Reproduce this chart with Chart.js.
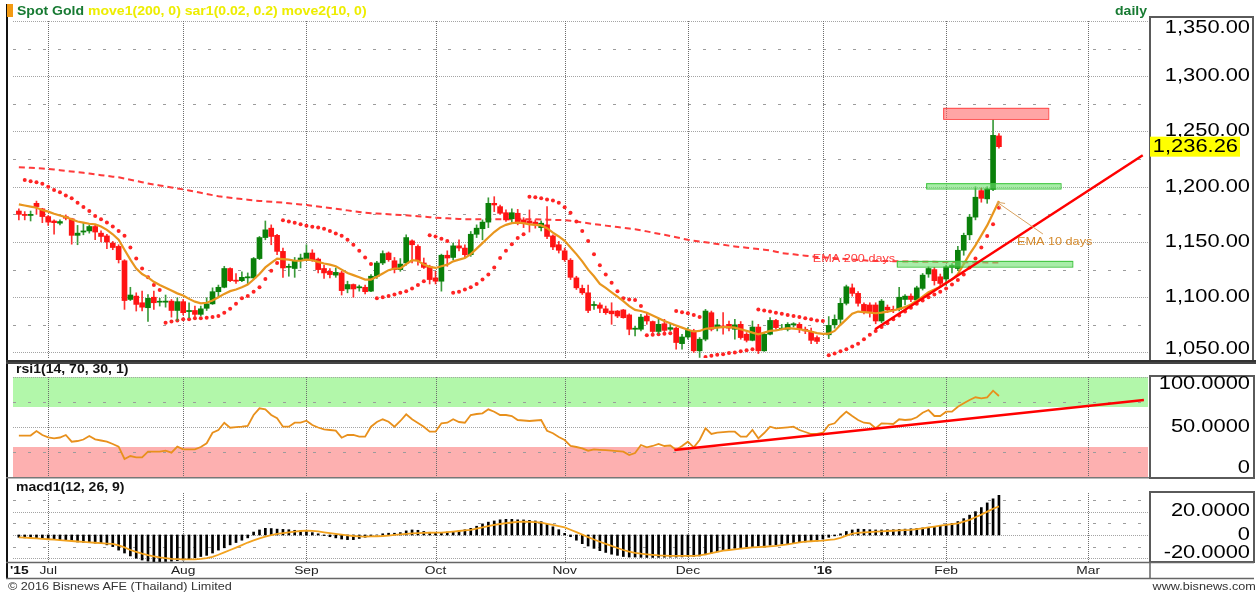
<!DOCTYPE html>
<html>
<head>
<meta charset="utf-8">
<script src="https://cdn.jsdelivr.net/npm/chart.js@4.4.0/dist/chart.umd.min.js"></script>
<style>
  body { margin: 0; background: #fff; }
  #wrap { position: relative; width: 1258px; height: 593px; overflow: hidden; font-family: "Liberation Sans", Arial, sans-serif; }
  canvas { position: absolute; left: 0; }
  .txt { position: absolute; white-space: nowrap; line-height: 14px; transform-origin: 0 50%; }
</style>
</head>
<body>
<div id="wrap">
  <canvas id="mainChart" width="1258" height="362" style="top:0"></canvas>
  <canvas id="rsiChart" width="1258" height="117" style="top:362px"></canvas>
  <canvas id="macdChart" width="1258" height="114" style="top:479px"></canvas>

  <div style="position:absolute;left:7px;top:4px;width:6px;height:13px;background:#f39a12"></div>
  <div class="txt" style="left:17px;top:4px;font-weight:bold;font-size:12px;transform:scaleX(1.17)">
    <span style="color:#177a32">Spot Gold</span> <span style="color:#eded00">move1(200, 0) sar1(0.02, 0.2) move2(10, 0)</span>
  </div>
  <div class="txt" style="left:1115px;top:4px;font-weight:bold;font-size:12px;color:#177a32;transform:scaleX(1.17)">daily</div>
  <div class="txt" style="left:16px;top:362px;font-weight:bold;font-size:12px;color:#111;transform:scaleX(1.17)">rsi1(14, 70, 30, 1)</div>
  <div class="txt" style="left:16px;top:480px;font-weight:bold;font-size:12px;color:#111;transform:scaleX(1.17)">macd1(12, 26, 9)</div>
  <div class="txt" style="left:8px;top:579px;font-size:11px;color:#333;transform:scaleX(1.15)">&copy; 2016 Bisnews AFE (Thailand) Limited</div>
  <div class="txt" style="right:2px;top:579px;font-size:11px;color:#333;transform-origin:100% 50%;transform:scaleX(1.15)">www.bisnews.com</div>
</div>

<script>
// trading days are numbered from 1 Jul 2015 (day 0); the first candle is day -5
var firstDay = -5;

var monthStarts = [0, 23, 44, 66, 88, 109, 132, 153, 177.2];
var monthLabels = ['Jul', 'Aug', 'Sep', 'Oct', 'Nov', 'Dec', "'16", 'Feb', 'Mar'];
var yearLabel = "'15";

var priceTicks = [1350, 1300, 1250, 1200, 1150, 1100, 1050];
var priceMinor = [1325, 1275, 1225, 1175, 1125, 1075];
var rsiTicks = [100, 50, 0];
var rsiMinor = [75, 25];
var macdTicks = [20, 0, -20];
var macdMinor = [30, 10, -10];

var opens = [1178, 1175, 1174, 1185, 1180,
  1173, 1169, 1167, 1173, 1171, 1156, 1159, 1160, 1164, 1158,
  1155.5, 1149, 1146, 1133, 1098, 1101, 1095, 1090.5, 1100, 1095.5,
  1095.5, 1096.5, 1088, 1096, 1087, 1088, 1084.5, 1090, 1094, 1105,
  1109, 1126, 1115.5, 1115, 1117.5, 1117.5, 1135, 1154, 1162.5, 1156,
  1141.5, 1127, 1126, 1134, 1135, 1140, 1134.5, 1126, 1123.5, 1120,
  1122, 1107.5, 1111.5, 1108.5, 1109, 1105.5, 1119, 1131, 1140, 1133,
  1125, 1131, 1151, 1146, 1131, 1128, 1117.5, 1114.5, 1138, 1136,
  1146.5, 1144.5, 1138.5, 1157, 1162, 1168, 1185, 1182, 1176.5, 1171,
  1176, 1170, 1169, 1168, 1163, 1165.5, 1155.5, 1147.5, 1142, 1133.5,
  1117.5, 1108, 1104, 1092.5, 1093, 1089.5, 1087.5, 1087.5, 1088.5, 1084,
  1071, 1071, 1083, 1078, 1069, 1076, 1071, 1072, 1058, 1064,
  1069.5, 1051.5, 1062, 1086, 1072.5, 1074, 1075.5, 1071, 1075.5, 1066.5,
  1061, 1073, 1051.5, 1066.5, 1079, 1071, 1071, 1075, 1075.5, 1071,
  1069, 1063.5, null, 1066, 1075, 1080, 1094.5, 1108.5, 1103.5, 1093.5,
  1093, 1093, 1078.5, 1091, 1089, 1089, 1098, 1101, 1097.5, 1108,
  1121, 1125, 1118.5, 1116.5, 1127, 1126, 1142.5, 1156.5, 1172.5, 1196.5,
  1189, 1197.5, 1246];

var highs = [1180, 1177.5, 1178, 1187, 1180.5,
  1174, 1170, 1170, 1174.5, 1171.5, 1165, 1167, 1165.5, 1165.5, 1160,
  1157, 1150.5, 1147.5, 1134, 1109, 1104, 1105.5, 1102.5, 1105.5, 1099,
  1102, 1098, 1099.5, 1098, 1095, 1092, 1092, 1099.5, 1108.5, 1111,
  1128, 1126.5, 1121.5, 1123, 1122, 1136, 1155, 1169, 1165.5, 1157,
  1144.5, 1130, 1136, 1139, 1147.5, 1143, 1135.5, 1129, 1126, 1126.5,
  1123.5, 1114.5, 1112, 1111, 1111, 1120.5, 1132.5, 1142, 1141, 1136,
  1135, 1156.5, 1152, 1147.5, 1135.5, 1129, 1123.5, 1139, 1142, 1149,
  1152, 1147.5, 1159.5, 1165.5, 1170, 1190, 1191, 1183.5, 1179, 1180,
  1179.5, 1172, 1179, 1170, 1169, 1182, 1156.5, 1150.5, 1144.5, 1135,
  1119, 1111, 1111, 1096, 1095, 1092, 1095, 1088, 1089, 1085,
  1074, 1084.5, 1086, 1078.5, 1080, 1080, 1075.5, 1073, 1066.5, 1072.5,
  1071, 1063.5, 1089, 1087.5, 1080, 1086, 1078.5, 1080, 1078, 1068,
  1078.5, 1075.5, 1068, 1081.5, 1080, 1075.5, 1077, 1077, 1077, 1073,
  1072, 1065, null, 1082.5, 1084, 1099, 1111, 1112, 1105, 1095,
  1095, 1095, 1098, 1093, 1092, 1109, 1102.5, 1103, 1110, 1121.5,
  1127.5, 1127, 1121, 1129, 1130.5, 1146, 1158, 1175, 1200, 1199,
  1200, 1260.5, 1248];

var lows = [1170, 1170, 1169, 1175, 1167.5,
  1165, 1157, 1165.5, 1170, 1148, 1147.5, 1156.5, 1158, 1152, 1150,
  1144, 1143, 1131, 1089, 1097, 1087.5, 1087.5, 1078, 1089, 1092,
  1091, 1082, 1079, 1084, 1081.5, 1082, 1083, 1088, 1093.5, 1099.5,
  1108.5, 1114, 1112.5, 1114, 1112, 1116, 1134, 1152, 1147.5, 1138.5,
  1118, 1119, 1118, 1126.5, 1133, 1132.5, 1122, 1117, 1117.5, 1118,
  1102, 1104, 1100, 1105.5, 1103, 1105, 1117, 1129.5, 1132.5, 1122,
  1123.5, 1129, 1131, 1129, 1126, 1112, 1112, 1105.5, 1128, 1134,
  1142, 1136, 1137, 1154, 1152, 1163, 1177.5, 1175, 1168.5, 1168,
  1165.5, 1163, 1159, 1162.5, 1160, 1153, 1143, 1140, 1132.5, 1116,
  1107, 1102.5, 1086, 1089, 1086, 1084.5, 1075.5, 1081.5, 1081, 1066,
  1065, 1069.5, 1075.5, 1066.5, 1067, 1068, 1069.5, 1053, 1053, 1062,
  1050, 1045.5, 1060.5, 1069.5, 1069.5, 1066.5, 1069.5, 1062, 1062, 1059.5,
  1060.5, 1049, 1051, 1066, 1071, 1070.5, 1069.5, 1073, 1068, 1067,
  1058, 1058, null, 1062.5, 1072, 1075, 1093, 1101, 1092, 1085,
  1082, 1076, 1077, 1086, 1086, 1087.5, 1093, 1096, 1096, 1106.5,
  1118, 1111, 1110, 1111, 1122, 1124, 1138, 1152, 1170, 1186,
  1185, 1196.5, 1235];

var closes = [1175, 1174, 1175, 1182, 1173,
  1168, 1167.5, 1168.5, 1171.5, 1156, 1158, 1160, 1164, 1159, 1155,
  1150, 1145, 1134, 1097, 1102, 1093.5, 1091, 1099, 1095, 1096,
  1096.5, 1088, 1096, 1086, 1088, 1084.5, 1089.5, 1094, 1105, 1109,
  1126, 1115, 1114.5, 1118, 1118.5, 1135, 1154, 1161, 1155, 1141.5,
  1126.5, 1128, 1133, 1135.5, 1140, 1134, 1125, 1122, 1120.5, 1122.5,
  1106, 1111.5, 1107.5, 1109.5, 1105, 1119, 1131, 1139.5, 1134, 1125,
  1130, 1154, 1147.5, 1133, 1127, 1116, 1114.5, 1138, 1135.5, 1146.5,
  1144.5, 1138.5, 1157, 1162.5, 1168, 1185, 1183.5, 1176, 1170, 1176.5,
  1167.5, 1167, 1167, 1165.5, 1167, 1155, 1145.5, 1142.5, 1134, 1118,
  1108.5, 1104, 1088, 1093.5, 1090, 1086, 1085, 1083, 1081.5, 1071,
  1072, 1082, 1078.5, 1069, 1075.5, 1070, 1072.5, 1059, 1064, 1070,
  1051.5, 1062, 1087.5, 1071, 1075, 1072.5, 1072, 1075, 1063.5, 1061,
  1073, 1051.5, 1066.5, 1079, 1072.5, 1072, 1075.5, 1076, 1071, 1069.5,
  1061, 1060, null, 1074.5, 1080, 1094.5, 1109.5, 1103.5, 1094.5, 1087,
  1087, 1078.5, 1096.5, 1088.5, 1088, 1100, 1101, 1098, 1108.5, 1120,
  1126, 1115, 1112.5, 1127.5, 1129, 1142.5, 1156, 1172.5, 1190.5, 1189.5,
  1198, 1246.5, 1236.26];

var ema10 = [1184, 1183, 1182, 1181, 1179,
  1177.5, 1175.5, 1174, 1172.5, 1170.5, 1168.5, 1167.5, 1166.5, 1166, 1164,
  1161, 1157, 1152, 1143, 1134, 1126, 1121, 1118, 1114, 1111,
  1108.5, 1106, 1103.5, 1101.5, 1098.5, 1096, 1094.5, 1095, 1097, 1100,
  1103, 1105.5, 1107, 1109, 1111.5, 1116, 1121, 1127, 1131, 1135,
  1134.5, 1134, 1133, 1133, 1134, 1133.5, 1132, 1130.5, 1129.5, 1128,
  1125, 1122, 1120, 1118, 1116, 1116, 1118.5, 1121.5, 1124.5, 1126,
  1126, 1130, 1133.5, 1133, 1129.5, 1127.5, 1126.5, 1128, 1129.5, 1132.5,
  1134, 1135.5, 1139, 1144, 1149, 1154, 1159, 1163, 1165.5, 1167,
  1167.5, 1167, 1166, 1165.5, 1165, 1162.5, 1158.5, 1155, 1151, 1145,
  1139, 1132.5, 1125, 1119, 1112, 1108.5, 1104.5, 1100.5, 1096.5, 1092,
  1088.5, 1087.5, 1086, 1083.5, 1081, 1078.5, 1076.5, 1074.5, 1072.5, 1070.5,
  1069, 1069.5, 1071.5, 1072, 1072.5, 1073, 1073, 1072.5, 1071, 1069.5,
  1068, 1066.5, 1068, 1069.5, 1070, 1071, 1072, 1071.5, 1071, 1070,
  1069, 1067.5, 1066.8, 1067, 1069.5, 1075, 1080, 1085, 1087, 1086.5,
  1086, 1085.5, 1086, 1087, 1088, 1089.5, 1091, 1093.5, 1097, 1100.5,
  1104.5, 1107, 1109.5, 1113, 1116, 1121, 1130, 1139, 1147, 1156,
  1165, 1176, 1187];

var ema200 = [1217.7, 1217.4, 1217.1, 1216.8, 1216.5,
  1216.2, 1215.6, 1215, 1214.4, 1213.8, 1213.2, 1212.6, 1212, 1211.2, 1210.5,
  1209.8, 1209.1, 1208.5, 1207.5, 1206.3, 1205.2, 1204.1, 1203, 1202, 1201.2,
  1200.3, 1199.4, 1198.5, 1197.6, 1196.6, 1195.5, 1194.5, 1193.4, 1192.4, 1191.4,
  1190.7, 1190, 1189.4, 1188.8, 1188.2, 1187.6, 1187.2, 1186.8, 1186.4, 1186,
  1185.6, 1185, 1184.5, 1184, 1183.5, 1182.8, 1182.1, 1181.4, 1180.7, 1180,
  1179.3, 1178.6, 1177.9, 1177.2, 1176.5, 1176.1, 1175.8, 1175.4, 1175.1, 1174.8,
  1174.5, 1174.1, 1173.7, 1173.3, 1172.9, 1172.4, 1172, 1171.7, 1171.4, 1171.1,
  1170.8, 1170.6, 1170.6, 1170.6, 1170.6, 1170.6, 1170.6, 1170.6, 1170.6, 1170.6,
  1170.6, 1170.6, 1170.6, 1170.6, 1170.4, 1170.2, 1170, 1169.9, 1169.7, 1169.2,
  1168.5, 1167.8, 1167, 1166.2, 1165.5, 1164.8, 1164.2, 1163.5, 1162.9, 1162.2,
  1161.6, 1160.6, 1159.6, 1158.5, 1157.5, 1156.5, 1155.4, 1154.3, 1153.1, 1152,
  1151.2, 1150.5, 1149.7, 1149, 1148.2, 1147.5, 1146.7, 1146, 1145.4, 1144.8,
  1144.2, 1143.6, 1143, 1142.4, 1141.2, 1140, 1139.4, 1138.8, 1138.2, 1137.6,
  1137, 1136.5, 1136.1, 1135.7, 1135.4, 1135, 1134.6, 1134.2, 1133.8, 1133.4,
  1133, 1132.9, 1132.8, 1132.7, 1132.6, 1132.5, 1132.4, 1132.3, 1132.2, 1132.1,
  1132, 1132, 1131.9, 1131.9, 1131.8, 1131.8, 1131.7, 1131.7, 1131.6, 1131.6,
  1131.5, 1131.5, 1131.5];

var sar = [null, 1206, 1205, 1204, 1202.7,
  1200, 1197, 1195, 1192, 1189.5, 1185.6, 1181.7, 1178, 1173.6, 1170.6,
  1167.6, 1164, 1160, 1155.6, 1145, 1135, 1126, 1118, 1111, 1106.5,
  1077, 1078, 1079, 1080, 1080, 1081, 1081, 1081.5, 1082, 1083,
  1086, 1089.5, 1094, 1099, 1101, 1105, 1109, 1116.6, 1124, 1131,
  1169.7, 1168.5, 1167.3, 1166, 1164.6, 1163.7, 1163, 1162, 1160, 1157.7,
  1155.6, 1152, 1147.5, 1142, 1136, 1130, 1099, 1100, 1101, 1102.5,
  1104, 1105.5, 1108, 1111, 1114.5, 1156, 1155, 1153, 1151, 1104,
  1105, 1107, 1109, 1112, 1116, 1120.5, 1127, 1135.5, 1142, 1148,
  1153.5, 1157, 1191, 1190.5, 1189.5, 1188.5, 1187.5, 1185.5, 1181.5, 1176.5,
  1168.5, 1160, 1151, 1139, 1129, 1120.5, 1113, 1105.5, 1099, 1098,
  1097.5, 1092, 1065.5, 1066, 1066.5, 1067, 1067.5, 1087.5, 1086.5, 1085.5,
  1084, 1082, 1046, 1047, 1048, 1048.5, 1049.5, 1050, 1051, 1052,
  1053, 1089, 1088, 1087, 1086, 1085, 1084, 1083, 1082, 1081,
  1080, 1079, 1078.5, 1047.5, 1049, 1051, 1053, 1055.5, 1058, 1062,
  1066, 1069.5, 1073, 1076.5, 1080, 1083.5, 1087, 1090.5, 1094, 1097,
  1100, 1102.5, 1105, 1108, 1111.5, 1115.5, 1120.5, 1127, 1135, 1145,
  1155.5, 1166, 1181];

var rsi = [41.3, 41.3, 41.5, 46, 42,
  39.7, 38.7, 39.5, 42, 35.3, 36, 37.5, 41, 37.7, 36.5,
  35.3, 33, 30.3, 18, 21, 19.7, 19.7, 25.3, 25.3, 25.3,
  26.3, 24.3, 30.3, 27.7, 27.7, 27.7, 30, 33.7, 44.3, 47,
  54.3, 49.3, 49.8, 50.3, 51, 62, 68.7, 67.7, 62, 58.7,
  50.3, 50.3, 54.3, 54.3, 56.3, 52, 49.5, 47.7, 47, 46.3,
  39.3, 42, 42, 40.3, 40.3, 50.3, 55, 57.7, 55.3, 50.3,
  56, 62.7, 57.7, 54, 50.3, 45.3, 45.3, 53.7, 54.3, 57.7,
  55, 54.3, 62, 63, 63.7, 67.7, 65.3, 62, 62, 61,
  57, 56.5, 56, 56.5, 57, 46.3, 43.7, 40, 37, 31,
  30, 28.7, 26.3, 27.7, 27.2, 26.8, 26.3, 25.8, 25.3, 22,
  24, 32, 29.7, 31, 33, 31, 31.5, 27, 31, 35.3,
  29.7, 37, 48.7, 43, 44.3, 44.8, 45.3, 45.3, 40.3, 40.3,
  47, 38.7, 44, 50.3, 48.7, 49.2, 49.7, 50.3, 47, 45,
  43, 43, 44.3, 52, 53.7, 60, 65.3, 61, 57, 54.3,
  53.7, 48.7, 53.7, 53.3, 53, 57.7, 57, 57.5, 59.7, 64.3,
  67, 61, 61, 65.3, 65.3, 70.3, 73.7, 77, 79.7, 78.7,
  79.7, 86.3, 81];

var macd = [-2, -2.5, -2.5, -3, -3.2,
  -3.5, -3.8, -4.3, -4.5, -5, -6, -6.3, -6.6, -7, -7.5,
  -8.5, -10, -13, -15.5, -18, -20, -21.5, -22.5, -23, -23,
  -22.8, -22.5, -22, -21.5, -20.5, -19.5, -18.5, -17.5, -15.5, -13,
  -11, -8.5, -6.5, -4.5, -2.5, 2.5, 4.3, 5.7, 5.5, 5,
  4.8, 4.5, 4, 3.5, 3, 2, 1, -0.5, -1.5, -2.5,
  -3.5, -4, -4, -3, -2, -1, 0, 1, 1.5, 1.5,
  2, 3.5, 4.3, 4, 3, 2.3, 1.8, 2, 2.5, 3,
  3.5, 4.5, 5.7, 7.5, 9.5, 11, 12, 13, 13.4, 13.4,
  13, 12.9, 12.5, 12, 11.4, 9, 7, 4.5, 1.4, -1.5,
  -4.5, -7.5, -9.5, -11.5, -13.5, -15, -16.5, -17.5, -18.5, -19,
  -19, -19.2, -19.3, -19.3, -19.2, -19.1, -19, -19, -18.8, -18.5,
  -18.3, -18, -17, -15.5, -14.5, -13.5, -12.5, -11.5, -11, -10.5,
  -10, -9.5, -9.2, -8.8, -8.5, -8, -7.5, -7, -6.5, -6,
  -5.5, -5.2, -3.5, -2, -0.8, 1, 3, 4.3, 5, 4.8,
  4.5, 4.3, 4.3, 4.5, 4.5, 4.8, 5, 5.3, 5.6, 6,
  6.5, 7, 7.5, 8.5, 10, 11.5, 14, 17, 20, 23.5,
  27.5, 31, 34];

var signal = [-2, -2.3, -2.6, -3, -3.3,
  -3.7, -4, -4.4, -4.8, -5.2, -5.6, -6, -6.3, -6.7, -7,
  -7.4, -7.7, -9, -10.7, -12.9, -14.5, -16, -17.3, -18.3, -19.2,
  -19.9, -20.6, -20.8, -20.9, -20.9, -20.9, -20.5, -19.8, -18.8, -17,
  -15, -12.9, -10.8, -8.7, -6.5, -4.6, -3, -1.5, -0.2, 0.9,
  1.6, 2.3, 2.9, 3.4, 3.7, 3.5, 3, 2.3, 1.6, 1,
  0.3, -0.3, -0.9, -1.3, -1.4, -1.3, -1.1, -0.9, -0.5, 0,
  0.5, 1, 1.4, 1.6, 1.8, 1.9, 2, 2, 2.4, 2.9,
  3.4, 3.9, 4.4, 5.5, 6.6, 7.6, 8.6, 9.4, 10.1, 10.7,
  11.2, 11.4, 11.3, 11, 10.5, 9.6, 8.6, 7.6, 6.5, 4.5,
  2.4, 0.3, -1.8, -3.9, -5.8, -7.6, -9.4, -11.2, -12.9, -14.3,
  -15.3, -16.1, -16.6, -17, -17.5, -17.8, -18, -18, -18, -18,
  -18, -17.6, -16.6, -15.6, -14.6, -13.4, -12.9, -12.3, -11.8, -11.2,
  -10.7, -10.4, -10.1, -9.8, -9.4, -8.7, -8, -7.2, -6.4, -5.7,
  -5.4, -5.1, -4.9, -4.3, -3.8, -2.5, -0.5, 1.2, 1.8, 2.2,
  2.5, 2.8, 3.1, 3.4, 3.6, 3.9, 4.1, 4.3, 5, 5.7,
  6.5, 7.2, 8, 8.7, 9.3, 10, 11.5, 13, 15.2, 17.5,
  20, 22.5, 24.5];

// drawn annotations (day, price)
var zoneStart = [152.5, 149.6, 144.6];
var zoneEnd = [170.4, 172.5, 174.5];
var zoneLow = [1261.4, 1198.4, 1127.7];
var zoneHigh = [1271.4, 1203.2, 1132.9];
var priceTrendX = [140.9, 186.5];
var priceTrendY = [1071, 1228.5];
var rsiTrendX = [106.7, 186.7];
var rsiTrendY = [27, 77];

var FONT = '"Liberation Sans", Arial, sans-serif';
var X_MIN = -6, X_MAX = 187.4;

function points(arr) {
    var out = [];
    arr.forEach(function(v, k) {
        if (v !== null) out.push({x: k + firstDay, y: v});
    });
    return out;
}

var bodies = [], wicks = [];
closes.forEach(function(c, k) {
    if (c === null) return;
    var up = c >= opens[k];
    bodies.push({x: k + firstDay, y: [opens[k], c], up: up});
    wicks.push({x: k + firstDay, y: [lows[k], highs[k]], up: up});
});

function fmtPrice(v) {
    return v.toLocaleString('en-US', {minimumFractionDigits: 2, maximumFractionDigits: 2});
}
function fmtOsc(v) {
    return v === 0 ? '0' : v.toFixed(4);
}

function wideText(ctx, text, x, y, align, font, color, sx) {
    ctx.save();
    ctx.font = font;
    ctx.fillStyle = color;
    ctx.textAlign = align;
    ctx.textBaseline = 'middle';
    ctx.translate(x, y);
    ctx.scale(sx, 1);
    ctx.fillText(text, 0, 0);
    ctx.restore();
}

function hLine(ctx, a, py, dash, color) {
    var yy = Math.round(py) + 0.5;
    ctx.beginPath();
    ctx.setLineDash(dash);
    ctx.strokeStyle = color;
    ctx.moveTo(a.left, yy);
    ctx.lineTo(a.right, yy);
    ctx.stroke();
}

function drawGrid(chart, major, minor) {
    var ctx = chart.ctx, a = chart.chartArea, x = chart.scales.x, y = chart.scales.y;
    ctx.save();
    ctx.lineWidth = 1;
    major.forEach(function(v) { hLine(ctx, a, y.getPixelForValue(v), [1, 1], '#a4a4a4'); });
    minor.forEach(function(v) { hLine(ctx, a, y.getPixelForValue(v), [3, 12], '#9c9c9c'); });
    monthStarts.forEach(function(m) {
        var px = Math.round(x.getPixelForValue(m)) + 0.5;
        ctx.beginPath();
        ctx.setLineDash([1, 1]);
        ctx.strokeStyle = '#6c6c6c';
        ctx.moveTo(px, a.top);
        ctx.lineTo(px, a.bottom);
        ctx.stroke();
    });
    ctx.restore();
}

function axisLabels(chart, values, fmt) {
    var a = chart.chartArea, y = chart.scales.y;
    values.forEach(function(v) {
        var py = Math.min(a.bottom - 9, Math.max(a.top + 7, y.getPixelForValue(v)));
        wideText(chart.ctx, fmt(v), 1250, py, 'right', '17.5px ' + FONT, '#000', 1.25);
    });
}

function trendLine(chart, xs, ys) {
    var ctx = chart.ctx, x = chart.scales.x, y = chart.scales.y;
    ctx.save();
    ctx.strokeStyle = '#ff0000';
    ctx.lineWidth = 2.5;
    ctx.beginPath();
    ctx.moveTo(x.getPixelForValue(xs[0]), y.getPixelForValue(ys[0]));
    ctx.lineTo(x.getPixelForValue(xs[1]), y.getPixelForValue(ys[1]));
    ctx.stroke();
    ctx.restore();
}

var mainPanel = {
    id: 'mainPanel',
    beforeDatasetsDraw: function(chart) {
        drawGrid(chart, priceTicks, priceMinor);
    },
    afterDatasetsDraw: function(chart) {
        var ctx = chart.ctx, x = chart.scales.x, y = chart.scales.y;
        ctx.save();
        zoneStart.forEach(function(s, n) {
            var x1 = x.getPixelForValue(s), x2 = x.getPixelForValue(zoneEnd[n]);
            var y1 = y.getPixelForValue(zoneHigh[n]), y2 = y.getPixelForValue(zoneLow[n]);
            var resist = n === 0;
            ctx.fillStyle = resist ? 'rgba(255,105,105,0.6)' : 'rgba(110,225,110,0.6)';
            ctx.strokeStyle = resist ? '#ff4a4a' : '#3cc43c';
            ctx.lineWidth = 1;
            ctx.fillRect(x1, y1, x2 - x1, y2 - y1);
            ctx.strokeRect(x1 + 0.5, y1 + 0.5, x2 - x1, y2 - y1);
        });
        ctx.restore();

        trendLine(chart, priceTrendX, priceTrendY);

        // EMA 10 pointer
        var ax = x.getPixelForValue(169.5), ay = y.getPixelForValue(1157.2);
        var bx = x.getPixelForValue(161.7), by = y.getPixelForValue(1186);
        var ang = Math.atan2(by - ay, bx - ax);
        ctx.save();
        ctx.strokeStyle = '#d9a25e';
        ctx.lineWidth = 1;
        ctx.beginPath();
        ctx.moveTo(ax, ay);
        ctx.lineTo(bx, by);
        ctx.moveTo(bx, by);
        ctx.lineTo(bx - 8 * Math.cos(ang - 0.45), by - 8 * Math.sin(ang - 0.45));
        ctx.moveTo(bx, by);
        ctx.lineTo(bx - 8 * Math.cos(ang + 0.45), by - 8 * Math.sin(ang + 0.45));
        ctx.stroke();
        ctx.restore();

        wideText(ctx, 'EMA 200 days', x.getPixelForValue(137.3), y.getPixelForValue(1134.7), 'center', '11px ' + FONT, '#ff3c3c', 1.15);
        wideText(ctx, 'EMA 10 days', x.getPixelForValue(171.5), y.getPixelForValue(1150), 'center', '11px ' + FONT, '#d58a2c', 1.15);
    },
    afterDraw: function(chart) {
        var ctx = chart.ctx, y = chart.scales.y;
        ctx.save();
        ctx.fillStyle = '#111';
        ctx.fillRect(6, 4, 2, chart.height - 4);
        ctx.strokeStyle = '#5a5a5a';
        ctx.lineWidth = 2;
        ctx.strokeRect(1150, 17, 103, 344);
        ctx.fillStyle = '#333';
        ctx.fillRect(6, chart.height - 2, 1250, 2);
        ctx.restore();

        axisLabels(chart, priceTicks, fmtPrice);

        var last = closes[closes.length - 1];
        var py = y.getPixelForValue(last);
        ctx.save();
        ctx.fillStyle = '#ffff00';
        ctx.fillRect(1150, py - 10, 90, 20);
        ctx.restore();
        wideText(ctx, fmtPrice(last), 1238, py, 'right', '17.5px ' + FONT, '#000', 1.25);
    }
};

var rsiPanel = {
    id: 'rsiPanel',
    beforeDatasetsDraw: function(chart) {
        var ctx = chart.ctx, a = chart.chartArea, y = chart.scales.y;
        ctx.save();
        ctx.fillStyle = '#b2f7aa';
        ctx.fillRect(a.left, y.getPixelForValue(100), a.right - a.left, y.getPixelForValue(70) - y.getPixelForValue(100));
        ctx.fillStyle = '#fdb0b0';
        ctx.fillRect(a.left, y.getPixelForValue(30), a.right - a.left, y.getPixelForValue(0) - y.getPixelForValue(30));
        ctx.restore();
        drawGrid(chart, rsiTicks, rsiMinor);
    },
    afterDatasetsDraw: function(chart) {
        trendLine(chart, rsiTrendX, rsiTrendY);
    },
    afterDraw: function(chart) {
        var ctx = chart.ctx;
        ctx.save();
        ctx.fillStyle = '#111';
        ctx.fillRect(6, 0, 2, chart.height);
        ctx.fillStyle = '#444';
        ctx.fillRect(6, 0, 1250, 2);
        ctx.fillStyle = '#777';
        ctx.fillRect(6, 115, 1144, 1.5);
        ctx.strokeStyle = '#5a5a5a';
        ctx.lineWidth = 2;
        ctx.strokeRect(1150, 14, 104, 102);
        ctx.restore();
        axisLabels(chart, rsiTicks, fmtOsc);
    }
};

var macdPanel = {
    id: 'macdPanel',
    beforeDatasetsDraw: function(chart) {
        drawGrid(chart, macdTicks, macdMinor);
    },
    afterDraw: function(chart) {
        var ctx = chart.ctx, a = chart.chartArea, x = chart.scales.x;
        ctx.save();
        ctx.fillStyle = '#111';
        ctx.fillRect(6, 0, 2, 99);
        ctx.strokeStyle = '#5a5a5a';
        ctx.lineWidth = 2;
        ctx.strokeRect(1150, 13, 104, 70);
        ctx.lineWidth = 1.5;
        ctx.strokeStyle = '#666';
        ctx.beginPath();
        ctx.moveTo(6, a.bottom + 0.5); ctx.lineTo(1254, a.bottom + 0.5);
        ctx.moveTo(6, a.bottom + 16.5); ctx.lineTo(1254, a.bottom + 16.5);
        ctx.moveTo(1150, a.bottom); ctx.lineTo(1150, a.bottom + 16.5);
        ctx.stroke();
        ctx.restore();

        axisLabels(chart, macdTicks, fmtOsc);

        var ly = a.bottom + 8.5;
        wideText(ctx, yearLabel, 10, ly, 'left', 'bold 11.5px ' + FONT, '#111', 1.2);
        monthLabels.forEach(function(lbl, n) {
            var bold = lbl.charAt(0) === "'";
            wideText(ctx, lbl, x.getPixelForValue(monthStarts[n]), ly, 'center',
                (bold ? 'bold ' : '') + '11.5px ' + FONT, '#222', 1.2);
        });
    }
};

function baseOptions(padding, yMin, yMax) {
    return {
        responsive: false,
        animation: false,
        devicePixelRatio: 1,
        layout: {padding: padding},
        plugins: {legend: {display: false}, tooltip: {enabled: false}},
        scales: {
            x: {type: 'linear', min: X_MIN, max: X_MAX, offset: false, display: false},
            y: {type: 'linear', min: yMin, max: yMax, display: false}
        }
    };
}

function candleColor(c) { return c.raw && c.raw.up ? '#0a800a' : '#ff1414'; }
function wickColor(c) { return c.raw && c.raw.up ? '#3a9a3a' : '#ff3030'; }

new Chart(document.getElementById('mainChart'), {
    type: 'bar',
    data: {
        datasets: [
            {type: 'line', data: points(ema10), borderColor: '#e8961e', borderWidth: 2.2, pointRadius: 0, order: 1},
            {type: 'bar', data: bodies, backgroundColor: candleColor, barThickness: 5, minBarLength: 1, grouped: false, order: 2},
            {type: 'bar', data: wicks, backgroundColor: wickColor, barThickness: 1, grouped: false, order: 3},
            {type: 'line', data: points(sar), showLine: false, pointRadius: 2, pointBackgroundColor: '#ff2424', pointBorderWidth: 0, order: 4},
            {type: 'line', data: points(ema200), borderColor: '#ff3a3a', borderWidth: 2, borderDash: [6, 4], pointRadius: 0, order: 5}
        ]
    },
    options: baseOptions({left: 13, right: 110, top: 21, bottom: 2}, 1045, 1350),
    plugins: [mainPanel]
});

new Chart(document.getElementById('rsiChart'), {
    type: 'line',
    data: {
        datasets: [
            {data: points(rsi), borderColor: '#e8901c', borderWidth: 1.8, pointRadius: 0}
        ]
    },
    options: baseOptions({left: 13, right: 110, top: 15, bottom: 2}, 0, 100),
    plugins: [rsiPanel]
});

new Chart(document.getElementById('macdChart'), {
    type: 'bar',
    data: {
        datasets: [
            {type: 'line', data: points(signal), borderColor: '#f2a21e', borderWidth: 1.8, pointRadius: 0, order: 1},
            {type: 'bar', data: points(macd), backgroundColor: '#000', barThickness: 2, grouped: false, order: 2}
        ]
    },
    options: baseOptions({left: 13, right: 110, top: 14, bottom: 31}, -23.2, 36),
    plugins: [macdPanel]
});
</script>
</body>
</html>
